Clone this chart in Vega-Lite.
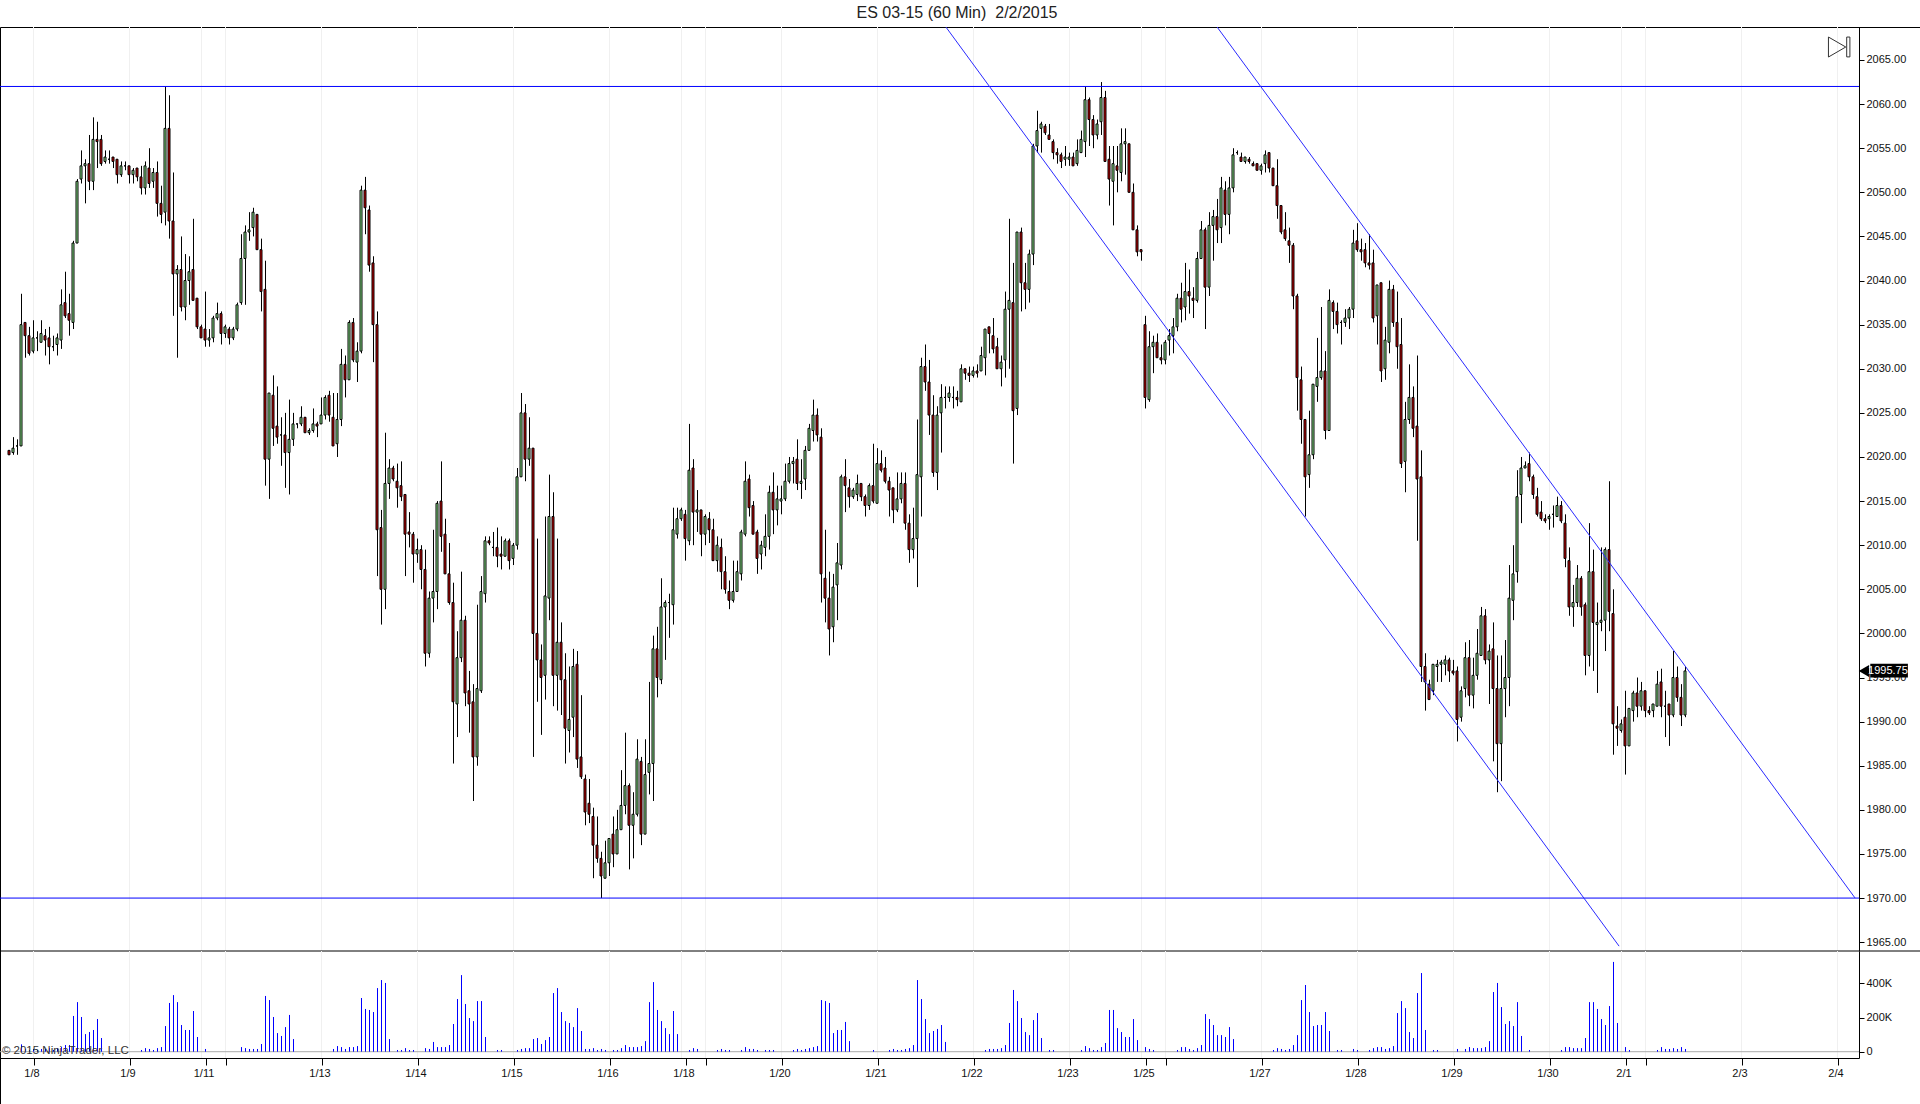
{"$schema":"https://vega.github.io/schema/vega-lite/v6.json","autosize":"none","width":1920,"height":1077,"padding":{"left":0,"top":27,"right":0,"bottom":0},"background":"white","view":{"stroke":"black","strokeWidth":1,"fill":"white"},
"title":{"text":"ES 03-15 (60 Min) \u00a02/2/2015","anchor":"middle","frame":"group","font":"Liberation Sans","fontSize":16,"fontWeight":"normal","color":"#222222","offset":4,"dx":-3},
"data":{"name":"bars"},
"datasets":{"bars":[
{"i":0,"o":2020.75,"h":2020.75,"l":2020.25,"c":2020.25,"v":0},
{"i":1,"o":2020.5,"h":2022.25,"l":2020.25,"c":2021,"v":0},
{"i":2,"o":2021.25,"h":2022,"l":2020.25,"c":2021.25,"v":0},
{"i":3,"o":2021.25,"h":2038.5,"l":2021.25,"c":2035,"v":43},
{"i":4,"o":2035.25,"h":2035.25,"l":2031.25,"c":2033.75,"v":16},
{"i":5,"o":2033.75,"h":2034.75,"l":2031.5,"c":2031.75,"v":10},
{"i":6,"o":2032,"h":2035.5,"l":2031.75,"c":2033.5,"v":16},
{"i":7,"o":2033.5,"h":2034.25,"l":2032,"c":2033.5,"v":10},
{"i":8,"o":2033,"h":2035.5,"l":2033,"c":2034,"v":16},
{"i":9,"o":2033.75,"h":2034.5,"l":2031.5,"c":2033.25,"v":16},
{"i":10,"o":2033.5,"h":2034.75,"l":2030.5,"c":2032.5,"v":21},
{"i":11,"o":2032.5,"h":2033.75,"l":2032,"c":2032.5,"v":10},
{"i":12,"o":2032.75,"h":2034,"l":2031.5,"c":2033.5,"v":21},
{"i":13,"o":2033.25,"h":2039,"l":2032.25,"c":2037.25,"v":27},
{"i":14,"o":2037.5,"h":2041,"l":2035.75,"c":2036,"v":39},
{"i":15,"o":2036.25,"h":2038.5,"l":2033.75,"c":2035.5,"v":39},
{"i":16,"o":2035.25,"h":2044.5,"l":2034.5,"c":2044.25,"v":209},
{"i":17,"o":2044.25,"h":2051.5,"l":2044.25,"c":2051.25,"v":290},
{"i":18,"o":2051.5,"h":2054.75,"l":2051,"c":2053,"v":203},
{"i":19,"o":2053,"h":2053.75,"l":2048.75,"c":2053.25,"v":103},
{"i":20,"o":2053.25,"h":2056.5,"l":2050.25,"c":2051.25,"v":115},
{"i":21,"o":2051.25,"h":2058.5,"l":2050.25,"c":2056,"v":127},
{"i":22,"o":2056,"h":2058,"l":2052.75,"c":2055.75,"v":191},
{"i":23,"o":2056,"h":2056.5,"l":2053,"c":2053.25,"v":80},
{"i":24,"o":2053.5,"h":2054.75,"l":2053.25,"c":2054,"v":0},
{"i":25,"o":2053.75,"h":2054.75,"l":2053.25,"c":2053.75,"v":0},
{"i":26,"o":2054,"h":2054,"l":2052.75,"c":2053.5,"v":0},
{"i":27,"o":2053.75,"h":2053.75,"l":2051,"c":2052,"v":0},
{"i":28,"o":2052,"h":2053.5,"l":2051.75,"c":2053,"v":0},
{"i":29,"o":2053,"h":2053.5,"l":2052.5,"c":2053,"v":0},
{"i":30,"o":2053,"h":2053,"l":2051,"c":2052,"v":0},
{"i":31,"o":2052,"h":2052.75,"l":2051,"c":2052.5,"v":0},
{"i":32,"o":2052.75,"h":2052.75,"l":2051.25,"c":2051.75,"v":0},
{"i":33,"o":2051.75,"h":2053,"l":2049.75,"c":2050.5,"v":10},
{"i":34,"o":2050.5,"h":2053.5,"l":2049.75,"c":2053,"v":21},
{"i":35,"o":2052.75,"h":2055,"l":2050.5,"c":2051,"v":16},
{"i":36,"o":2051.25,"h":2052.75,"l":2050.5,"c":2052.25,"v":10},
{"i":37,"o":2052.25,"h":2053.5,"l":2047.25,"c":2048.75,"v":21},
{"i":38,"o":2048.75,"h":2050.75,"l":2046.5,"c":2047.5,"v":27},
{"i":39,"o":2047.75,"h":2062,"l":2046.25,"c":2057.25,"v":150},
{"i":40,"o":2057.25,"h":2061,"l":2044.75,"c":2046.75,"v":285},
{"i":41,"o":2046.75,"h":2052.25,"l":2036,"c":2040.75,"v":331},
{"i":42,"o":2040.75,"h":2041.75,"l":2031.25,"c":2041.25,"v":290},
{"i":43,"o":2041.25,"h":2045,"l":2036.5,"c":2037,"v":156},
{"i":44,"o":2037,"h":2043,"l":2035.5,"c":2040,"v":127},
{"i":45,"o":2040,"h":2042.75,"l":2037.25,"c":2041,"v":127},
{"i":46,"o":2041.25,"h":2047,"l":2037.75,"c":2037.75,"v":238},
{"i":47,"o":2038,"h":2038,"l":2034.5,"c":2034.75,"v":86},
{"i":48,"o":2034.75,"h":2035,"l":2033.5,"c":2033.5,"v":0},
{"i":49,"o":2034.5,"h":2038.75,"l":2032.5,"c":2033.25,"v":16},
{"i":50,"o":2033.25,"h":2034.5,"l":2032.5,"c":2033.5,"v":0},
{"i":51,"o":2033.5,"h":2036,"l":2033,"c":2035.75,"v":0},
{"i":52,"o":2035.75,"h":2037.5,"l":2035.5,"c":2036.25,"v":0},
{"i":53,"o":2036.25,"h":2036.5,"l":2032.75,"c":2034,"v":0},
{"i":54,"o":2034,"h":2035,"l":2033.5,"c":2034.75,"v":0},
{"i":55,"o":2034.5,"h":2034.75,"l":2032.75,"c":2033.5,"v":0},
{"i":56,"o":2033.5,"h":2034.75,"l":2033.25,"c":2034.5,"v":0},
{"i":57,"o":2034.5,"h":2037.5,"l":2034.25,"c":2037.25,"v":0},
{"i":58,"o":2037.5,"h":2045.25,"l":2037.25,"c":2042.5,"v":27},
{"i":59,"o":2042.5,"h":2046.25,"l":2037.25,"c":2045.5,"v":21},
{"i":60,"o":2045.5,"h":2047.75,"l":2044.5,"c":2045.75,"v":16},
{"i":61,"o":2046,"h":2048.25,"l":2045,"c":2047.75,"v":16},
{"i":62,"o":2047.5,"h":2047.5,"l":2043.5,"c":2043.5,"v":16},
{"i":63,"o":2043.5,"h":2044.75,"l":2036.5,"c":2038.75,"v":45},
{"i":64,"o":2039,"h":2042.25,"l":2016.75,"c":2019.75,"v":326},
{"i":65,"o":2019.75,"h":2027.25,"l":2015.25,"c":2027.25,"v":302},
{"i":66,"o":2027,"h":2029.25,"l":2021.25,"c":2023.25,"v":203},
{"i":67,"o":2023.5,"h":2028,"l":2021.5,"c":2022.25,"v":109},
{"i":68,"o":2022.5,"h":2024.5,"l":2019,"c":2022.5,"v":92},
{"i":69,"o":2022.5,"h":2025,"l":2016.5,"c":2020.5,"v":144},
{"i":70,"o":2020.5,"h":2026.5,"l":2015.75,"c":2022,"v":215},
{"i":71,"o":2022,"h":2025,"l":2021.25,"c":2023.75,"v":74},
{"i":72,"o":2023.75,"h":2023.75,"l":2023.25,"c":2023.75,"v":0},
{"i":73,"o":2023.75,"h":2025.75,"l":2023.5,"c":2024.5,"v":0},
{"i":74,"o":2024.5,"h":2024.5,"l":2022.75,"c":2022.75,"v":0},
{"i":75,"o":2022.75,"h":2023.25,"l":2022.5,"c":2023,"v":0},
{"i":76,"o":2023,"h":2025.5,"l":2022.75,"c":2023.75,"v":0},
{"i":77,"o":2023.75,"h":2024,"l":2022.25,"c":2023.5,"v":0},
{"i":78,"o":2023.75,"h":2026.75,"l":2023.75,"c":2024.75,"v":0},
{"i":79,"o":2024.75,"h":2027,"l":2024.25,"c":2026.75,"v":0},
{"i":80,"o":2027,"h":2027.5,"l":2024,"c":2024.75,"v":0},
{"i":81,"o":2024.5,"h":2027.25,"l":2021.25,"c":2021.25,"v":16},
{"i":82,"o":2021.5,"h":2027.25,"l":2020,"c":2024.25,"v":33},
{"i":83,"o":2024.25,"h":2032.25,"l":2023.5,"c":2030.5,"v":27},
{"i":84,"o":2030.5,"h":2031.5,"l":2026.75,"c":2028.75,"v":16},
{"i":85,"o":2028.75,"h":2035.5,"l":2028.75,"c":2035.25,"v":27},
{"i":86,"o":2035.25,"h":2035.75,"l":2030.75,"c":2031,"v":27},
{"i":87,"o":2030.75,"h":2033,"l":2028.5,"c":2032,"v":33},
{"i":88,"o":2032,"h":2050.75,"l":2031.75,"c":2050.25,"v":314},
{"i":89,"o":2050.25,"h":2051.75,"l":2045.25,"c":2048.25,"v":250},
{"i":90,"o":2048,"h":2048.5,"l":2041,"c":2041.75,"v":244},
{"i":91,"o":2042,"h":2042.75,"l":2030.75,"c":2035,"v":232},
{"i":92,"o":2035,"h":2036.5,"l":2006.5,"c":2011.75,"v":372},
{"i":93,"o":2012,"h":2014,"l":2001,"c":2005,"v":419},
{"i":94,"o":2005,"h":2022.75,"l":2002.75,"c":2017,"v":402},
{"i":95,"o":2017,"h":2019.75,"l":2015.25,"c":2018.75,"v":74},
{"i":96,"o":2018.75,"h":2019,"l":2017.25,"c":2017.5,"v":0},
{"i":97,"o":2017.25,"h":2019.25,"l":2014.25,"c":2016.5,"v":10},
{"i":98,"o":2016.75,"h":2019.5,"l":2015,"c":2015.5,"v":10},
{"i":99,"o":2015.75,"h":2015.75,"l":2006.5,"c":2011.25,"v":21},
{"i":100,"o":2011.5,"h":2013.75,"l":2009.75,"c":2011.25,"v":10},
{"i":101,"o":2011.25,"h":2011.5,"l":2005.75,"c":2009,"v":10},
{"i":102,"o":2009,"h":2010.75,"l":2008,"c":2009.5,"v":0},
{"i":103,"o":2009.5,"h":2010,"l":2005,"c":2007.25,"v":0},
{"i":104,"o":2007.25,"h":2009.5,"l":1996.25,"c":1997.75,"v":21},
{"i":105,"o":1997.75,"h":2004.75,"l":1997.25,"c":2004,"v":16},
{"i":106,"o":2004,"h":2011.75,"l":2001.25,"c":2004.75,"v":57},
{"i":107,"o":2004.75,"h":2015,"l":2002.75,"c":2014.75,"v":27},
{"i":108,"o":2015,"h":2019.5,"l":2009.25,"c":2011,"v":27},
{"i":109,"o":2011.25,"h":2013,"l":2006.75,"c":2006.75,"v":27},
{"i":110,"o":2006.75,"h":2010.25,"l":2003.25,"c":2003.5,"v":39},
{"i":111,"o":2003.5,"h":2005.75,"l":1985.25,"c":1992.25,"v":162},
{"i":112,"o":1992,"h":2000.25,"l":1988.25,"c":1997.25,"v":308},
{"i":113,"o":1997.25,"h":2007,"l":1996.75,"c":2001.5,"v":448},
{"i":114,"o":2001.5,"h":2002,"l":1991.75,"c":1993.25,"v":279},
{"i":115,"o":1993.5,"h":1995.75,"l":1988.75,"c":1992,"v":197},
{"i":116,"o":1992.25,"h":1994.25,"l":1981,"c":1986,"v":179},
{"i":117,"o":1986,"h":2003.25,"l":1985,"c":1993.75,"v":296},
{"i":118,"o":1993.5,"h":2006.5,"l":1993.25,"c":2004.75,"v":296},
{"i":119,"o":2004.5,"h":2011,"l":2003.5,"c":2010.5,"v":86},
{"i":120,"o":2010.5,"h":2011,"l":2010,"c":2010.25,"v":0},
{"i":121,"o":2009.75,"h":2011.5,"l":2008.75,"c":2009.75,"v":0},
{"i":122,"o":2009.75,"h":2012,"l":2007.5,"c":2008.75,"v":10},
{"i":123,"o":2009,"h":2011,"l":2007.25,"c":2008.75,"v":10},
{"i":124,"o":2008.75,"h":2010.75,"l":2008.75,"c":2010.5,"v":0},
{"i":125,"o":2010.5,"h":2010.75,"l":2007.25,"c":2008.25,"v":0},
{"i":126,"o":2008.5,"h":2010.25,"l":2007.75,"c":2010,"v":0},
{"i":127,"o":2010,"h":2018.75,"l":2009.5,"c":2017.75,"v":10},
{"i":128,"o":2017.75,"h":2027.25,"l":2017.75,"c":2025,"v":16},
{"i":129,"o":2025,"h":2026,"l":2017.25,"c":2019.75,"v":21},
{"i":130,"o":2019.75,"h":2024.5,"l":2019,"c":2021,"v":21},
{"i":131,"o":2021,"h":2021,"l":1986,"c":2000,"v":74},
{"i":132,"o":2000,"h":2010.75,"l":1992.25,"c":1997,"v":80},
{"i":133,"o":1997,"h":1998.75,"l":1988.5,"c":1995,"v":45},
{"i":134,"o":1995.25,"h":2013.25,"l":1992.5,"c":2004.25,"v":68},
{"i":135,"o":2004,"h":2018,"l":2001.5,"c":2013.25,"v":86},
{"i":136,"o":2013.25,"h":2016,"l":1991.75,"c":1995.25,"v":343},
{"i":137,"o":1995.25,"h":2010.75,"l":1991.25,"c":1999,"v":372},
{"i":138,"o":1999,"h":2001.25,"l":1990.75,"c":1994.75,"v":232},
{"i":139,"o":1994.75,"h":1997.75,"l":1985.25,"c":1989.25,"v":179},
{"i":140,"o":1989,"h":1996.25,"l":1986.5,"c":1990.25,"v":168},
{"i":141,"o":1990.5,"h":1998.25,"l":1988.25,"c":1996.25,"v":144},
{"i":142,"o":1996.5,"h":1998,"l":1984.75,"c":1985.75,"v":255},
{"i":143,"o":1986,"h":1993,"l":1983.5,"c":1983.75,"v":121},
{"i":144,"o":1983.5,"h":1984,"l":1978.25,"c":1979.75,"v":16},
{"i":145,"o":1980.75,"h":1983.5,"l":1978.5,"c":1979.5,"v":16},
{"i":146,"o":1979.25,"h":1980.25,"l":1972.25,"c":1976,"v":21},
{"i":147,"o":1976,"h":1979.25,"l":1974,"c":1974.5,"v":10},
{"i":148,"o":1974.5,"h":1975.25,"l":1970,"c":1972.5,"v":16},
{"i":149,"o":1972.25,"h":1976.5,"l":1972.25,"c":1974,"v":10},
{"i":150,"o":1974,"h":1976.75,"l":1972.5,"c":1976.75,"v":0},
{"i":151,"o":1977.25,"h":1979.25,"l":1973.5,"c":1975,"v":10},
{"i":152,"o":1975,"h":1980,"l":1975,"c":1977.75,"v":10},
{"i":153,"o":1977.75,"h":1984.5,"l":1977.75,"c":1980.5,"v":21},
{"i":154,"o":1980.5,"h":1988.75,"l":1979.5,"c":1982.75,"v":39},
{"i":155,"o":1982.75,"h":1983,"l":1973.25,"c":1978.25,"v":27},
{"i":156,"o":1978.25,"h":1982,"l":1974.5,"c":1979.5,"v":27},
{"i":157,"o":1979.5,"h":1988,"l":1979.25,"c":1985.75,"v":27},
{"i":158,"o":1985.5,"h":1986,"l":1976,"c":1977.25,"v":33},
{"i":159,"o":1977.25,"h":1988,"l":1977.25,"c":1984,"v":62},
{"i":160,"o":1984.25,"h":1994.5,"l":1981.75,"c":1985.25,"v":290},
{"i":161,"o":1985.25,"h":1999.75,"l":1981,"c":1998.25,"v":407},
{"i":162,"o":1998.25,"h":2000.75,"l":1992.75,"c":1995,"v":244},
{"i":163,"o":1994.75,"h":2006.25,"l":1994.25,"c":2003,"v":179},
{"i":164,"o":2003,"h":2003.75,"l":1997,"c":2003.5,"v":138},
{"i":165,"o":2003.5,"h":2004.5,"l":1999.5,"c":2003.5,"v":103},
{"i":166,"o":2003.25,"h":2014.25,"l":2001,"c":2011.75,"v":238},
{"i":167,"o":2011.25,"h":2014.25,"l":2010.75,"c":2013,"v":103},
{"i":168,"o":2013,"h":2014.25,"l":2012.75,"c":2014,"v":0},
{"i":169,"o":2013.5,"h":2014,"l":2008.25,"c":2010.75,"v":0},
{"i":170,"o":2010.5,"h":2023.75,"l":2010,"c":2018.5,"v":10},
{"i":171,"o":2018.75,"h":2019.75,"l":2010,"c":2013.75,"v":21},
{"i":172,"o":2013.75,"h":2016.25,"l":2011.5,"c":2014,"v":16},
{"i":173,"o":2014,"h":2014,"l":2008.75,"c":2011.25,"v":0},
{"i":174,"o":2011.25,"h":2013.5,"l":2010,"c":2013.25,"v":0},
{"i":175,"o":2013,"h":2013.75,"l":2010.25,"c":2011.75,"v":0},
{"i":176,"o":2011.75,"h":2013,"l":2008.25,"c":2008.25,"v":0},
{"i":177,"o":2008.25,"h":2011,"l":2007,"c":2010,"v":10},
{"i":178,"o":2009.75,"h":2010.75,"l":2005,"c":2007,"v":16},
{"i":179,"o":2007,"h":2008.75,"l":2004.5,"c":2005,"v":10},
{"i":180,"o":2004.75,"h":2006,"l":2002.75,"c":2003.75,"v":10},
{"i":181,"o":2003.75,"h":2008.25,"l":2003.5,"c":2004.75,"v":0},
{"i":182,"o":2004.75,"h":2008.25,"l":2004.75,"c":2007,"v":0},
{"i":183,"o":2006.75,"h":2011.75,"l":2006,"c":2011.5,"v":10},
{"i":184,"o":2011.25,"h":2019.5,"l":2011,"c":2017.25,"v":27},
{"i":185,"o":2017.5,"h":2018,"l":2013.25,"c":2014.25,"v":16},
{"i":186,"o":2014.5,"h":2015,"l":2011.25,"c":2011.25,"v":16},
{"i":187,"o":2011.5,"h":2011.75,"l":2006.75,"c":2008.5,"v":10},
{"i":188,"o":2009,"h":2010.5,"l":2007.25,"c":2010,"v":0},
{"i":189,"o":2009.75,"h":2013.5,"l":2008.75,"c":2011,"v":10},
{"i":190,"o":2011,"h":2016.75,"l":2009.5,"c":2016,"v":10},
{"i":191,"o":2016,"h":2018.25,"l":2011.25,"c":2014,"v":10},
{"i":192,"o":2014,"h":2016.75,"l":2012.25,"c":2015.25,"v":0},
{"i":193,"o":2015,"h":2016.75,"l":2013.5,"c":2015.25,"v":0},
{"i":194,"o":2015.25,"h":2019.25,"l":2015,"c":2017.25,"v":0},
{"i":195,"o":2017.25,"h":2020,"l":2017,"c":2019.25,"v":0},
{"i":196,"o":2019.25,"h":2020,"l":2017,"c":2019.5,"v":10},
{"i":197,"o":2019.75,"h":2022,"l":2016.25,"c":2017,"v":16},
{"i":198,"o":2017,"h":2019.75,"l":2015.25,"c":2017.25,"v":10},
{"i":199,"o":2017.5,"h":2021.25,"l":2016.25,"c":2020.75,"v":16},
{"i":200,"o":2020.75,"h":2023.75,"l":2020.75,"c":2023.25,"v":21},
{"i":201,"o":2023,"h":2026.5,"l":2021.75,"c":2024.75,"v":27},
{"i":202,"o":2024.75,"h":2025.5,"l":2021.75,"c":2022.5,"v":33},
{"i":203,"o":2022.25,"h":2023.25,"l":2003.5,"c":2006.75,"v":302},
{"i":204,"o":2006.25,"h":2011.75,"l":2001.25,"c":2004,"v":296},
{"i":205,"o":2004,"h":2007,"l":1997.5,"c":2000.5,"v":285},
{"i":206,"o":2000.75,"h":2006.75,"l":1999,"c":2005.25,"v":109},
{"i":207,"o":2005.5,"h":2010.25,"l":2001.5,"c":2008,"v":127},
{"i":208,"o":2007.75,"h":2018,"l":2007.25,"c":2017.75,"v":127},
{"i":209,"o":2017.75,"h":2019.75,"l":2013.75,"c":2016.75,"v":174},
{"i":210,"o":2016.5,"h":2017.5,"l":2014.25,"c":2015.5,"v":62},
{"i":211,"o":2015.5,"h":2016.5,"l":2015.25,"c":2016.25,"v":0},
{"i":212,"o":2015.75,"h":2018,"l":2015,"c":2017,"v":0},
{"i":213,"o":2017,"h":2017,"l":2015,"c":2015.5,"v":0},
{"i":214,"o":2015.5,"h":2015.75,"l":2013.25,"c":2014.5,"v":0},
{"i":215,"o":2014.5,"h":2017,"l":2014,"c":2016.75,"v":0},
{"i":216,"o":2016.75,"h":2021.5,"l":2014.75,"c":2015,"v":10},
{"i":217,"o":2014.75,"h":2021,"l":2014.75,"c":2019.25,"v":0},
{"i":218,"o":2019.25,"h":2020.75,"l":2018.25,"c":2018.5,"v":0},
{"i":219,"o":2018.75,"h":2020,"l":2017,"c":2017.25,"v":0},
{"i":220,"o":2017.25,"h":2017.75,"l":2013.25,"c":2016.25,"v":10},
{"i":221,"o":2016.5,"h":2016.5,"l":2012.5,"c":2014,"v":16},
{"i":222,"o":2014,"h":2018.25,"l":2013.75,"c":2015.25,"v":10},
{"i":223,"o":2015.25,"h":2018.25,"l":2014.75,"c":2017,"v":10},
{"i":224,"o":2017,"h":2018.25,"l":2011.75,"c":2012.5,"v":16},
{"i":225,"o":2012.5,"h":2013.5,"l":2008,"c":2009.5,"v":21},
{"i":226,"o":2009.5,"h":2014.25,"l":2008.5,"c":2010.75,"v":39},
{"i":227,"o":2010.75,"h":2024.25,"l":2005.25,"c":2018,"v":419},
{"i":228,"o":2017.75,"h":2031.25,"l":2013.25,"c":2030.25,"v":308},
{"i":229,"o":2030.25,"h":2032.75,"l":2027.5,"c":2028.5,"v":191},
{"i":230,"o":2028.5,"h":2031,"l":2022.5,"c":2024.75,"v":109},
{"i":231,"o":2024.75,"h":2027,"l":2017.75,"c":2018.25,"v":121},
{"i":232,"o":2018.25,"h":2025.75,"l":2016.25,"c":2024.75,"v":133},
{"i":233,"o":2025,"h":2028.25,"l":2020.5,"c":2026.75,"v":156},
{"i":234,"o":2026.75,"h":2028,"l":2025.5,"c":2026.75,"v":57},
{"i":235,"o":2026.75,"h":2028,"l":2026.25,"c":2027.25,"v":0},
{"i":236,"o":2026.75,"h":2028,"l":2025.5,"c":2026.75,"v":0},
{"i":237,"o":2026.75,"h":2027.5,"l":2025.75,"c":2026.5,"v":0},
{"i":238,"o":2026.25,"h":2030.5,"l":2026.25,"c":2030,"v":0},
{"i":239,"o":2030,"h":2030,"l":2028.75,"c":2029.5,"v":0},
{"i":240,"o":2029.5,"h":2030.25,"l":2028.5,"c":2029.25,"v":0},
{"i":241,"o":2029.25,"h":2030.25,"l":2029,"c":2029.75,"v":0},
{"i":242,"o":2029.75,"h":2030.5,"l":2029,"c":2029.5,"v":0},
{"i":243,"o":2029.75,"h":2032.5,"l":2029.75,"c":2031.5,"v":0},
{"i":244,"o":2031.25,"h":2034.5,"l":2029.25,"c":2034.5,"v":10},
{"i":245,"o":2034.75,"h":2034.75,"l":2031.75,"c":2034,"v":16},
{"i":246,"o":2033.75,"h":2035.75,"l":2031.75,"c":2032.25,"v":16},
{"i":247,"o":2032.5,"h":2033.5,"l":2030,"c":2030,"v":16},
{"i":248,"o":2030,"h":2031.5,"l":2028,"c":2030.75,"v":21},
{"i":249,"o":2031,"h":2038.75,"l":2029,"c":2036.75,"v":39},
{"i":250,"o":2036.75,"h":2047,"l":2030,"c":2037.75,"v":168},
{"i":251,"o":2037.5,"h":2042,"l":2019.25,"c":2025.25,"v":361},
{"i":252,"o":2025.5,"h":2045.5,"l":2024.75,"c":2045.5,"v":296},
{"i":253,"o":2045.5,"h":2046,"l":2036.5,"c":2039.75,"v":197},
{"i":254,"o":2039.75,"h":2042,"l":2036.75,"c":2039,"v":115},
{"i":255,"o":2039,"h":2043.5,"l":2037.5,"c":2043,"v":97},
{"i":256,"o":2043,"h":2055.5,"l":2041.75,"c":2055.25,"v":185},
{"i":257,"o":2055.25,"h":2059.25,"l":2054.5,"c":2057,"v":226},
{"i":258,"o":2057.25,"h":2058,"l":2054.5,"c":2057.75,"v":80},
{"i":259,"o":2057.5,"h":2057.75,"l":2056.5,"c":2056.75,"v":0},
{"i":260,"o":2056.5,"h":2057.75,"l":2056,"c":2056,"v":10},
{"i":261,"o":2055.75,"h":2056,"l":2053.75,"c":2054.5,"v":10},
{"i":262,"o":2054.5,"h":2055,"l":2053.25,"c":2054.25,"v":0},
{"i":263,"o":2054.25,"h":2054.5,"l":2052.75,"c":2053.5,"v":0},
{"i":264,"o":2053.75,"h":2055.25,"l":2053,"c":2054,"v":0},
{"i":265,"o":2053.75,"h":2054.5,"l":2053,"c":2054,"v":0},
{"i":266,"o":2054,"h":2054.5,"l":2053,"c":2053,"v":0},
{"i":267,"o":2053.25,"h":2056,"l":2053,"c":2054.75,"v":0},
{"i":268,"o":2054.5,"h":2057,"l":2054.5,"c":2056,"v":10},
{"i":269,"o":2055.75,"h":2062,"l":2054,"c":2060.5,"v":33},
{"i":270,"o":2060.5,"h":2060.75,"l":2055.25,"c":2058.25,"v":21},
{"i":271,"o":2058.25,"h":2058.75,"l":2055,"c":2056.5,"v":10},
{"i":272,"o":2056.5,"h":2058.25,"l":2056,"c":2057.75,"v":10},
{"i":273,"o":2058,"h":2062.5,"l":2056.5,"c":2060.75,"v":27},
{"i":274,"o":2060.75,"h":2061.5,"l":2053.5,"c":2053.5,"v":51},
{"i":275,"o":2053.75,"h":2055.25,"l":2048.5,"c":2051.5,"v":244},
{"i":276,"o":2051.25,"h":2055.25,"l":2046.25,"c":2053.25,"v":244},
{"i":277,"o":2053,"h":2055.25,"l":2050,"c":2052.5,"v":138},
{"i":278,"o":2052.25,"h":2057.25,"l":2051.25,"c":2055.5,"v":115},
{"i":279,"o":2055.5,"h":2057.25,"l":2052,"c":2055.75,"v":86},
{"i":280,"o":2055.5,"h":2055.5,"l":2050,"c":2050,"v":86},
{"i":281,"o":2050,"h":2051,"l":2045.75,"c":2045.75,"v":191},
{"i":282,"o":2045.75,"h":2046.25,"l":2042.75,"c":2043.25,"v":68},
{"i":283,"o":2043.5,"h":2043.5,"l":2042.25,"c":2043.25,"v":0},
{"i":284,"o":2035,"h":2036,"l":2025.5,"c":2026.75,"v":27},
{"i":285,"o":2026.5,"h":2034.25,"l":2026.25,"c":2032.5,"v":16},
{"i":286,"o":2032.5,"h":2033.75,"l":2029.5,"c":2033,"v":10},
{"i":287,"o":2033,"h":2034,"l":2031.25,"c":2031.25,"v":0},
{"i":288,"o":2031.25,"h":2032.75,"l":2030.5,"c":2031,"v":0},
{"i":289,"o":2031,"h":2033.25,"l":2030.5,"c":2033,"v":0},
{"i":290,"o":2033.25,"h":2034.5,"l":2031.5,"c":2033.75,"v":0},
{"i":291,"o":2033.75,"h":2035.75,"l":2031.75,"c":2034.75,"v":0},
{"i":292,"o":2034.75,"h":2038.5,"l":2034.25,"c":2038,"v":10},
{"i":293,"o":2038,"h":2039.75,"l":2035.25,"c":2036.75,"v":27},
{"i":294,"o":2037,"h":2042,"l":2035.5,"c":2038.75,"v":27},
{"i":295,"o":2038.75,"h":2041.25,"l":2036.25,"c":2038.25,"v":16},
{"i":296,"o":2038,"h":2039.25,"l":2035.75,"c":2037.75,"v":10},
{"i":297,"o":2037.75,"h":2043.25,"l":2037.5,"c":2042.5,"v":21},
{"i":298,"o":2042.5,"h":2046.75,"l":2042.5,"c":2045.75,"v":39},
{"i":299,"o":2045.75,"h":2046,"l":2034.5,"c":2039.25,"v":220},
{"i":300,"o":2039.25,"h":2047.75,"l":2038.25,"c":2046.25,"v":191},
{"i":301,"o":2046.25,"h":2048,"l":2042.25,"c":2047.25,"v":156},
{"i":302,"o":2047.25,"h":2049.25,"l":2044.25,"c":2045.75,"v":97},
{"i":303,"o":2046,"h":2051.75,"l":2044.25,"c":2050.5,"v":97},
{"i":304,"o":2050.25,"h":2051.25,"l":2046.25,"c":2047.5,"v":86},
{"i":305,"o":2047.5,"h":2051.75,"l":2045.25,"c":2050.5,"v":144},
{"i":306,"o":2050.5,"h":2055,"l":2050,"c":2054.25,"v":74},
{"i":307,"o":2054.5,"h":2054.75,"l":2054.25,"c":2054.5,"v":0},
{"i":308,"o":2054,"h":2054.5,"l":2053.5,"c":2053.5,"v":0},
{"i":309,"o":2053.5,"h":2054,"l":2053.25,"c":2054,"v":0},
{"i":310,"o":2053.75,"h":2054,"l":2053.25,"c":2053.5,"v":0},
{"i":311,"o":2053.25,"h":2053.5,"l":2053,"c":2053,"v":0},
{"i":312,"o":2053.25,"h":2053.25,"l":2052.5,"c":2052.5,"v":0},
{"i":313,"o":2052.5,"h":2053.25,"l":2052,"c":2053,"v":0},
{"i":314,"o":2053.25,"h":2054.75,"l":2052.25,"c":2054.25,"v":0},
{"i":315,"o":2054.5,"h":2054.5,"l":2052.25,"c":2052.75,"v":0},
{"i":316,"o":2052.75,"h":2052.75,"l":2050.75,"c":2050.75,"v":10},
{"i":317,"o":2050.75,"h":2053.75,"l":2047,"c":2048.5,"v":21},
{"i":318,"o":2048.5,"h":2048.5,"l":2045.25,"c":2045.5,"v":16},
{"i":319,"o":2045.75,"h":2047.75,"l":2044.5,"c":2044.75,"v":10},
{"i":320,"o":2044.5,"h":2046,"l":2042,"c":2044,"v":16},
{"i":321,"o":2044,"h":2044.25,"l":2036.75,"c":2038.25,"v":39},
{"i":322,"o":2038.25,"h":2038.5,"l":2025.25,"c":2029,"v":97},
{"i":323,"o":2028.75,"h":2030.25,"l":2021.5,"c":2024.25,"v":302},
{"i":324,"o":2024.25,"h":2024.25,"l":2013.25,"c":2017.75,"v":390},
{"i":325,"o":2018,"h":2025.25,"l":2016.5,"c":2020.25,"v":232},
{"i":326,"o":2020.25,"h":2028.25,"l":2019.75,"c":2028.25,"v":150},
{"i":327,"o":2028,"h":2033.5,"l":2026.25,"c":2029,"v":156},
{"i":328,"o":2029,"h":2037,"l":2028.75,"c":2029.75,"v":156},
{"i":329,"o":2029.75,"h":2032,"l":2022,"c":2023,"v":232},
{"i":330,"o":2023,"h":2039,"l":2023,"c":2037.75,"v":121},
{"i":331,"o":2037.5,"h":2037.75,"l":2034.5,"c":2036.5,"v":0},
{"i":332,"o":2036.5,"h":2037.5,"l":2034,"c":2035,"v":10},
{"i":333,"o":2035.25,"h":2035.5,"l":2032.75,"c":2035.25,"v":10},
{"i":334,"o":2035.25,"h":2036.75,"l":2034.75,"c":2035.75,"v":0},
{"i":335,"o":2035.75,"h":2037,"l":2034.5,"c":2036.75,"v":0},
{"i":336,"o":2036.75,"h":2045.75,"l":2035.75,"c":2044.25,"v":16},
{"i":337,"o":2044.5,"h":2046.5,"l":2043.25,"c":2043.5,"v":10},
{"i":338,"o":2043.5,"h":2044.75,"l":2042.25,"c":2043.25,"v":0},
{"i":339,"o":2043.5,"h":2044.25,"l":2041.5,"c":2042,"v":0},
{"i":340,"o":2042,"h":2045.25,"l":2041.25,"c":2041.75,"v":10},
{"i":341,"o":2042,"h":2043.5,"l":2035.25,"c":2035.75,"v":21},
{"i":342,"o":2036,"h":2039.5,"l":2032.75,"c":2039.5,"v":27},
{"i":343,"o":2039.75,"h":2039.75,"l":2028.5,"c":2029.75,"v":27},
{"i":344,"o":2030,"h":2034.75,"l":2028.75,"c":2033.25,"v":16},
{"i":345,"o":2033,"h":2040,"l":2031.75,"c":2039,"v":21},
{"i":346,"o":2039,"h":2039.5,"l":2034.75,"c":2035.25,"v":33},
{"i":347,"o":2035.25,"h":2038.75,"l":2030,"c":2032.5,"v":226},
{"i":348,"o":2032.75,"h":2035.75,"l":2018.75,"c":2019.25,"v":296},
{"i":349,"o":2019.5,"h":2026.25,"l":2016,"c":2024.25,"v":255},
{"i":350,"o":2024.25,"h":2030.5,"l":2023.75,"c":2026.75,"v":115},
{"i":351,"o":2026.75,"h":2028,"l":2022.25,"c":2023.25,"v":80},
{"i":352,"o":2023.5,"h":2031.5,"l":2010.5,"c":2017.5,"v":343},
{"i":353,"o":2017.75,"h":2020.75,"l":1994.5,"c":1996.25,"v":460},
{"i":354,"o":1996.25,"h":1997.75,"l":1991.25,"c":1994.5,"v":127},
{"i":355,"o":1994.25,"h":1994.75,"l":1992.5,"c":1992.5,"v":0},
{"i":356,"o":1993.5,"h":1996.5,"l":1993,"c":1996.5,"v":10},
{"i":357,"o":1996.25,"h":1997,"l":1994.5,"c":1996.5,"v":10},
{"i":358,"o":1996.5,"h":1997,"l":1994.5,"c":1996.75,"v":0},
{"i":359,"o":1996.5,"h":1997.5,"l":1995.25,"c":1997,"v":0},
{"i":360,"o":1997,"h":1997.25,"l":1994.5,"c":1995.75,"v":0},
{"i":361,"o":1995.75,"h":1997,"l":1995.25,"c":1995.5,"v":0},
{"i":362,"o":1995.75,"h":1996.25,"l":1987.75,"c":1990.25,"v":16},
{"i":363,"o":1990.5,"h":1994,"l":1990,"c":1993.5,"v":0},
{"i":364,"o":1993.75,"h":1999,"l":1992.75,"c":1997.25,"v":16},
{"i":365,"o":1997.25,"h":1999.25,"l":1991.75,"c":1993,"v":27},
{"i":366,"o":1993,"h":1997.25,"l":1991.5,"c":1995.25,"v":21},
{"i":367,"o":1995.25,"h":2000.5,"l":1994.75,"c":1997.75,"v":21},
{"i":368,"o":1997.5,"h":2003,"l":1997.5,"c":2002,"v":21},
{"i":369,"o":2002,"h":2002.75,"l":1996.5,"c":1997,"v":27},
{"i":370,"o":1997,"h":1998.75,"l":1992,"c":1998,"v":62},
{"i":371,"o":1998.25,"h":2001.25,"l":1985.5,"c":1993.75,"v":349},
{"i":372,"o":1993.75,"h":1997.5,"l":1982,"c":1987.5,"v":402},
{"i":373,"o":1987.5,"h":1997.5,"l":1983.25,"c":1993.75,"v":261},
{"i":374,"o":1993.75,"h":1999.25,"l":1990.5,"c":1995,"v":162},
{"i":375,"o":1995,"h":2007.75,"l":1991.75,"c":2004,"v":179},
{"i":376,"o":2003.75,"h":2010,"l":2001.5,"c":2006.75,"v":150},
{"i":377,"o":2007,"h":2018.5,"l":2005.75,"c":2015.5,"v":290},
{"i":378,"o":2015.75,"h":2020,"l":2012.5,"c":2018.75,"v":92},
{"i":379,"o":2018.75,"h":2019.5,"l":2018.75,"c":2019,"v":0},
{"i":380,"o":2019.25,"h":2020.5,"l":2017.25,"c":2017.75,"v":10},
{"i":381,"o":2017.75,"h":2018,"l":2015.25,"c":2015.75,"v":0},
{"i":382,"o":2015.5,"h":2016.5,"l":2013.25,"c":2013.5,"v":0},
{"i":383,"o":2013.75,"h":2015,"l":2012.75,"c":2013,"v":0},
{"i":384,"o":2013,"h":2013.5,"l":2012.5,"c":2012.75,"v":0},
{"i":385,"o":2013,"h":2013.5,"l":2011.75,"c":2013.25,"v":0},
{"i":386,"o":2013.5,"h":2014.5,"l":2012,"c":2013.5,"v":0},
{"i":387,"o":2013.25,"h":2015.5,"l":2013.25,"c":2014.5,"v":0},
{"i":388,"o":2014.5,"h":2015,"l":2012.5,"c":2012.75,"v":10},
{"i":389,"o":2012.5,"h":2013.5,"l":2007.5,"c":2008.5,"v":27},
{"i":390,"o":2008.25,"h":2009.75,"l":2002,"c":2003,"v":27},
{"i":391,"o":2003,"h":2005.5,"l":2000.75,"c":2003.5,"v":21},
{"i":392,"o":2003.5,"h":2007.75,"l":2003,"c":2006.25,"v":21},
{"i":393,"o":2006.25,"h":2006.5,"l":2002,"c":2003,"v":21},
{"i":394,"o":2003.25,"h":2003.5,"l":1995.25,"c":1997.5,"v":80},
{"i":395,"o":1997.5,"h":2012.5,"l":1996.25,"c":2007,"v":290},
{"i":396,"o":2007,"h":2009.5,"l":1995.75,"c":2001.25,"v":290},
{"i":397,"o":2001,"h":2003.5,"l":1993.25,"c":2001.25,"v":250},
{"i":398,"o":2001.25,"h":2009.75,"l":2000.25,"c":2001.5,"v":191},
{"i":399,"o":2001.5,"h":2009.75,"l":1998,"c":2009.5,"v":156},
{"i":400,"o":2009.5,"h":2017.25,"l":2000.25,"c":2002.5,"v":267},
{"i":401,"o":2002.25,"h":2005,"l":1986.25,"c":1989.75,"v":525},
{"i":402,"o":1989.5,"h":1991.75,"l":1987.25,"c":1989.25,"v":168},
{"i":403,"o":1989,"h":1990.25,"l":1988.75,"c":1989.75,"v":0},
{"i":404,"o":1990.5,"h":1993.5,"l":1984,"c":1987.25,"v":27},
{"i":405,"o":1987.25,"h":1991.5,"l":1987.25,"c":1991.5,"v":10},
{"i":406,"o":1991.25,"h":1993.5,"l":1990,"c":1993.25,"v":0},
{"i":407,"o":1993.25,"h":1995,"l":1990.5,"c":1991.75,"v":0},
{"i":408,"o":1991.75,"h":1994.5,"l":1991.25,"c":1993.5,"v":0},
{"i":409,"o":1993.5,"h":1993.5,"l":1990.5,"c":1991.25,"v":0},
{"i":410,"o":1991.25,"h":1991.75,"l":1990.75,"c":1991,"v":0},
{"i":411,"o":1991.25,"h":1992,"l":1990.5,"c":1992,"v":0},
{"i":412,"o":1991.75,"h":1995.75,"l":1991.75,"c":1994.25,"v":10},
{"i":413,"o":1994.5,"h":1996,"l":1990.5,"c":1991.75,"v":27},
{"i":414,"o":1991.75,"h":1993.5,"l":1988.25,"c":1991.75,"v":16},
{"i":415,"o":1992,"h":1992,"l":1987.25,"c":1990.75,"v":16},
{"i":416,"o":1990.75,"h":1998,"l":1990.5,"c":1995,"v":21},
{"i":417,"o":1995,"h":1996.25,"l":1992.25,"c":1992.75,"v":16},
{"i":418,"o":1992.75,"h":1994.25,"l":1989.5,"c":1990.75,"v":27},
{"i":419,"o":1990.75,"h":1996.25,"l":1990.5,"c":1995.75,"v":16}
],
"grid":[{"i":6},{"i":30},{"i":48},{"i":54},{"i":78},{"i":102},{"i":126},{"i":150},{"i":168},{"i":174},{"i":193},{"i":217},{"i":241},{"i":265},{"i":283},{"i":289},{"i":313},{"i":337},{"i":361},{"i":385},{"i":403},{"i":409},{"i":433},{"i":457}],
"levels":[{"i":-2.375,"i2":462.375,"p":2062},{"i":-2.375,"i2":462.375,"p":1970}],
"channels":[{"i":234.1,"p":2068.74,"n":"lower"},{"i":402.4,"p":1964.55,"n":"lower"},{"i":301.9,"p":2068.74,"n":"upper"},{"i":461.4,"p":1970,"n":"upper"}]
},
"encoding":{"x":{"field":"i","type":"quantitative","scale":{"domain":[-2.375,462.375],"range":[0,1859],"padding":0},"axis":{"orient":"bottom","offset":-46,"title":null,"grid":false,"values":[6,30,49,54,78,102,126,150,169,174,193,217,241,265,284,289,313,337,361,385,404,409,433,457],"labelExpr":"{'6':'1/8','30':'1/9','49':'1/11','78':'1/13','102':'1/14','126':'1/15','150':'1/16','169':'1/18','193':'1/20','217':'1/21','241':'1/22','265':'1/23','284':'1/25','313':'1/27','337':'1/28','361':'1/29','385':'1/30','404':'2/1','433':'2/3','457':'2/4'}[datum.value] || ''","labelOverlap":false,"labelFont":"Liberation Sans","labelFontSize":11,"labelColor":"#111111","labelPadding":2,"labelOffset":-2,"tickSize":7,"tickColor":"black","domainColor":"black"}}},
"layer":[
{"resolve":{"axis":{"y":"independent"}},"layer":[
{"data":{"name":"grid"},"mark":{"type":"rule","color":"#f0f0f0","strokeWidth":1},"encoding":{"y":{"datum":2068.74,"type":"quantitative","scale":{"domain":[1964,2068.74],"range":[924,0]},"axis":{"orient":"right","offset":-61,"title":null,"grid":false,"values":[1965,1970,1975,1980,1985,1990,1995,2000,2005,2010,2015,2020,2025,2030,2035,2040,2045,2050,2055,2060,2065],"format":".2f","labelOverlap":false,"labelFont":"Liberation Sans","labelFontSize":11,"labelColor":"#111111","labelPadding":2,"tickSize":5,"tickColor":"black","domainColor":"black"}},"y2":{"datum":1964}}},
{"mark":{"type":"rule","color":"black","strokeWidth":1},"encoding":{"y":{"field":"h","type":"quantitative","scale":{"domain":[1964,2068.74],"range":[924,0]},"axis":null},"y2":{"field":"l"}}},
{"mark":{"type":"bar","orient":"vertical","size":2,"xOffset":-0.5,"stroke":"black","strokeWidth":1},"encoding":{"y":{"field":"o","type":"quantitative","scale":{"domain":[1964,2068.74],"range":[924,0]},"axis":null},"y2":{"field":"c"},"color":{"condition":{"test":"datum.c<datum.o","value":"#cc0000"},"value":"#90ee90"}}},
{"data":{"name":"levels"},"mark":{"type":"rule","color":"#0000ff","strokeWidth":1},"encoding":{"x2":{"field":"i2"},"y":{"field":"p","type":"quantitative","scale":{"domain":[1964,2068.74],"range":[924,0]},"axis":null}}},
{"data":{"name":"channels"},"mark":{"type":"line","color":"#2a2aff","strokeWidth":1},"encoding":{"detail":{"field":"n"},"y":{"field":"p","type":"quantitative","scale":{"domain":[1964,2068.74],"range":[924,0]},"axis":null}}},
{"data":{"values":[{"i":-2.375,"i2":477.625,"p":1964}]},"mark":{"type":"rule","color":"black","strokeWidth":1},"encoding":{"x2":{"field":"i2"},"y":{"field":"p","type":"quantitative","scale":{"domain":[1964,2068.74],"range":[924,0]},"axis":null}}},
{"data":{"values":[{"i":465.2,"i2":474.6,"p":1996.55,"p2":1995}]},"mark":{"type":"rect","color":"black"},"encoding":{"x2":{"field":"i2"},"y":{"field":"p","type":"quantitative","scale":{"domain":[1964,2068.74],"range":[924,0]},"axis":null},"y2":{"field":"p2"}}},
{"data":{"values":[{"i":463.6,"p":1995.75}]},"mark":{"type":"point","shape":"triangle-left","size":144,"filled":true,"color":"black","opacity":1},"encoding":{"y":{"field":"p","type":"quantitative","scale":{"domain":[1964,2068.74],"range":[924,0]},"axis":null}}},
{"data":{"values":[{"i":469.6,"p":1995.75,"t":"1995.75"}]},"mark":{"type":"text","color":"white","font":"Liberation Sans","fontSize":11,"align":"center","baseline":"middle"},"encoding":{"text":{"field":"t"},"y":{"field":"p","type":"quantitative","scale":{"domain":[1964,2068.74],"range":[924,0]},"axis":null}}},
{"data":{"values":[{"i":456.9,"p":2066.47}]},"mark":{"type":"point","shape":"triangle-right","size":400,"filled":false,"color":"#333333","strokeWidth":1,"opacity":1},"encoding":{"y":{"field":"p","type":"quantitative","scale":{"domain":[1964,2068.74],"range":[924,0]},"axis":null}}},
{"data":{"values":[{"i":459.3,"i2":460.1,"p":2067.6,"p2":2065.35}]},"mark":{"type":"rect","fill":"white","stroke":"#333333","strokeWidth":1},"encoding":{"x2":{"field":"i2"},"y":{"field":"p","type":"quantitative","scale":{"domain":[1964,2068.74],"range":[924,0]},"axis":null},"y2":{"field":"p2"}}}
]},
{"resolve":{"axis":{"y":"independent"}},"layer":[
{"data":{"name":"grid"},"mark":{"type":"rule","color":"#f0f0f0","strokeWidth":1},"encoding":{"y":{"datum":588.9,"type":"quantitative","scale":{"domain":[-36.8,588.9],"range":[1031,924]},"axis":{"orient":"right","offset":-61,"title":null,"grid":false,"values":[0,200,400],"labelExpr":"datum.value==0?'0':datum.value+'K'","labelOverlap":false,"labelFont":"Liberation Sans","labelFontSize":11,"labelColor":"#111111","labelPadding":2,"tickSize":5,"tickColor":"black","domainColor":"black"}},"y2":{"datum":-36.8}}},
{"data":{"values":[{"i":-2.375,"i2":462.375,"v":0}]},"mark":{"type":"rule","color":"#aaaaaa","strokeWidth":1},"encoding":{"x2":{"field":"i2"},"y":{"field":"v","type":"quantitative","scale":{"domain":[-36.8,588.9],"range":[1031,924]},"axis":null}}},
{"mark":{"type":"rule","color":"#0000ff","strokeWidth":1},"encoding":{"y":{"field":"v","type":"quantitative","scale":{"domain":[-36.8,588.9],"range":[1031,924]},"axis":null},"y2":{"datum":0}}},
{"data":{"values":[{"i":-1.9,"v":4,"t":"© 2015 NinjaTrader, LLC"}]},"mark":{"type":"text","color":"#333333","font":"Liberation Sans","fontSize":11.5,"align":"left","baseline":"middle"},"encoding":{"text":{"field":"t"},"y":{"field":"v","type":"quantitative","scale":{"domain":[-36.8,588.9],"range":[1031,924]},"axis":null}}}
]}
],
"resolve":{"scale":{"y":"independent"}}
}
